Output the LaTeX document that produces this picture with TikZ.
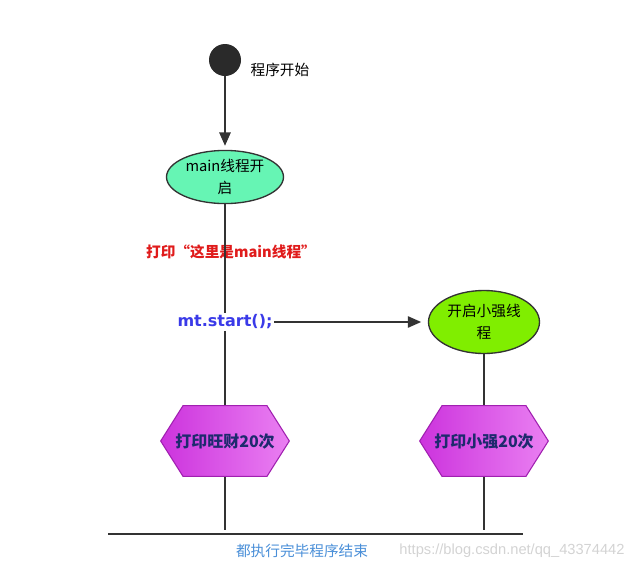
\documentclass[tikz,border=0pt]{standalone}
\usepackage{fontspec}
\setmainfont{Noto Sans CJK SC}
\newfontfamily\codefont{DejaVu Sans}
\newfontfamily\markfont{Liberation Sans}
\usetikzlibrary{arrows.meta,shapes.geometric,positioning}

\definecolor{linegray}{HTML}{333333}
\definecolor{dotgray}{HTML}{2A2A2A}
\definecolor{mainfill}{HTML}{66F5B4}
\definecolor{subfill}{HTML}{80EE00}
\definecolor{hexleft}{HTML}{CC33DD}
\definecolor{hexright}{HTML}{EA80F2}
\definecolor{hexedge}{HTML}{A020B0}
\definecolor{hextext}{HTML}{1E2A6E}
\definecolor{printred}{HTML}{E01B1B}
\definecolor{codeblue}{HTML}{3A3AE8}
\definecolor{endblue}{HTML}{4A8FD8}
\definecolor{markgray}{HTML}{D3D3D3}

\begin{document}
\begin{tikzpicture}[x=0.75pt,y=-0.75pt,>={Triangle[length=10pt,width=8.5pt]},node distance=2cm,
  every node/.style={font=\fontsize{11}{14}\selectfont},
  flow/.style={draw=linegray,line width=1.2pt},
  startdot/.style={circle,fill=dotgray,minimum size=24pt,inner sep=0pt},
  threadbox/.style={ellipse,draw=linegray,line width=1pt,align=center,inner sep=1pt,
    font=\fontsize{11}{16}\selectfont},
  loopbox/.style={rectangle,minimum width=97.5pt,minimum height=54pt,text=hextext,
    font=\fontsize{12}{14}\selectfont\bfseries,
    path picture={
      \draw[draw=hexedge,line width=0.8pt,left color=hexleft,right color=hexright]
        ([xshift=0.5pt]path picture bounding box.west)
        -- ([xshift=17.25pt,yshift=-0.5pt]path picture bounding box.north west)
        -- ([xshift=-17.25pt,yshift=-0.5pt]path picture bounding box.north east)
        -- ([xshift=-0.5pt]path picture bounding box.east)
        -- ([xshift=-17.25pt,yshift=0.5pt]path picture bounding box.south east)
        -- ([xshift=17.25pt,yshift=0.5pt]path picture bounding box.south west)
        -- cycle;}}]
  \useasboundingbox (0,0) rectangle (640,569);

  \node[startdot] (S) at (225,60) {};
  \node[right=3.5pt of S,yshift=-7.5pt] (startlbl) {程序开始};
  \node[threadbox,fill=mainfill,minimum width=87.75pt,minimum height=33pt,
        below of=S,node distance=87.75pt] (M) {main线程开\\启};
  \node[below of=M,node distance=56.25pt,xshift=4.5pt,text=printred,
        font=\fontsize{11}{14}\selectfont\bfseries] (P) {打印“这里是main线程”};
  \node[below of=P,node distance=52.5pt,xshift=-4.5pt,inner sep=1pt,text=codeblue,
        font=\codefont\bfseries\fontsize{12}{14}\selectfont] (T) {mt.start();};
  \node[threadbox,fill=subfill,minimum width=83.25pt,minimum height=47.25pt,
        right of=T,node distance=194.25pt] (Q) {开启小强线\\程};
  \node[loopbox,below of=T,node distance=89.25pt] (A) {打印旺财20次};
  \node[loopbox,right of=A,node distance=194.25pt] (B) {打印小强20次};

  \coordinate (lowA) at (225,530);
  \coordinate (lowB) at (484,530);
  \coordinate (barL) at (108,534);
  \coordinate (barR) at (523,534);

  \draw[flow,->,shorten >=3pt] (S) -- (M);
  \draw[flow] (M) -- (T);
  \draw[flow,->,shorten >=5pt] (T) -- (Q);
  \draw[flow] (T) -- (A);
  \draw[flow] (A) -- (lowA);
  \draw[flow] (Q) -- (B);
  \draw[flow] (B) -- (lowB);
  \draw[flow] (barL) -- (barR);

  \node[text=endblue] (E) at (302,551) {都执行完毕程序结束};
  \node[text=markgray,font=\markfont\fontsize{11}{13}\selectfont] (W) at (512,551) {https://blog.csdn.net/qq\_43374442};
\end{tikzpicture}
\end{document}
